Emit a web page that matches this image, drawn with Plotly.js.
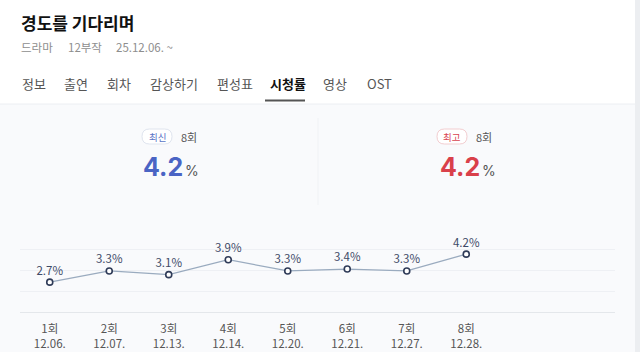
<!DOCTYPE html>
<html>
<head>
<meta charset="utf-8">
<script src="https://cdn.plot.ly/plotly-3.0.1.min.js"></script>
<style>
html,body{margin:0;padding:0;background:#fff;}
#chart{width:640px;height:352px;}
</style>
</head>
<body>
<div id="chart"></div>
<script>
// ---- data ----
const episodes = ["1회","2회","3회","4회","5회","6회","7회","8회"];
const airDates = ["12.06.","12.07.","12.13.","12.14.","12.20.","12.21.","12.27.","12.28."];
const ratings = [2.7, 3.3, 3.1, 3.9, 3.3, 3.4, 3.3, 4.2];
const gridVals = [1.1, 2.225, 3.35, 4.475, 5.6];
const tabs = ["정보","출연","회차","감상하기","편성표","시청률","영상","OST"];
const tabX = [20, 62, 105, 148, 215, 268, 321, 365];
const activeTab = "시청률";

const FONT = '"Noto Sans CJK KR", "Noto Sans", sans-serif';
const NUMFONT = 'Inter, "Noto Sans", sans-serif';

// plot area geometry (pixels)
const L = 20, R = 615, T = 228, B = 312;
const px = x => (x - L) / (R - L);
const py = y => (B - y) / (B - T);

const xIdx = episodes.map((_, i) => i);
const tickText = episodes.map((e, i) => e + '<br>' + airDates[i]);

const trace = {
  x: xIdx,
  y: ratings,
  mode: 'lines+markers+text',
  text: ratings.map(v => v.toFixed(1) + '%'),
  textposition: 'top center',
  textfont: {family: FONT, size: 11.5, color: '#3f4b68'},
  line: {color: '#9aabbf', width: 1.3},
  marker: {size: 6, color: '#ffffff', line: {color: '#2f3b58', width: 1.6}},
  cliponaxis: false,
  hoverinfo: 'skip'
};

const ann = [];
const shapes = [];
function txt(x, y, s, size, color, opts, family) {
  ann.push(Object.assign({
    xref: 'paper', yref: 'paper', x: px(x), y: py(y), text: s,
    showarrow: false, xanchor: 'left', yanchor: 'middle',
    font: {family: family || FONT, size: size, color: color}
  }, opts || {}));
}
function pill(x0, x1, y0, y1, fill, stroke) {
  const r = (y1 - y0) / 2;
  const P = (x, y) => px(x) + ',' + py(y);
  const path = 'M' + P(x0 + r, y0) + ' L' + P(x1 - r, y0) +
    ' Q' + P(x1, y0) + ' ' + P(x1, y0 + r) + ' Q' + P(x1, y1) + ' ' + P(x1 - r, y1) +
    ' L' + P(x0 + r, y1) + ' Q' + P(x0, y1) + ' ' + P(x0, y0 + r) +
    ' Q' + P(x0, y0) + ' ' + P(x0 + r, y0) + ' Z';
  shapes.push({type: 'path', xref: 'paper', yref: 'paper', path: path,
    fillcolor: fill, line: {color: stroke, width: 1}});
}

// white header background
shapes.push({type: 'rect', xref: 'paper', yref: 'paper', x0: px(0), x1: px(640), y0: py(104), y1: py(0),
  fillcolor: '#ffffff', line: {width: 0}, layer: 'below'});
// separator under tabs
shapes.push({type: 'line', xref: 'paper', yref: 'paper', x0: px(0), x1: px(636), y0: py(104), y1: py(104),
  line: {color: '#eceef2', width: 1}, layer: 'below'});
// right edge
shapes.push({type: 'rect', xref: 'paper', yref: 'paper', x0: px(635), x1: px(640), y0: py(352), y1: py(0),
  fillcolor: '#eceef1', line: {width: 0}, layer: 'below'});
// divider between stat cards
shapes.push({type: 'line', xref: 'paper', yref: 'paper', x0: px(318), x1: px(318), y0: py(118), y1: py(205),
  line: {color: '#f0f2f5', width: 1}, layer: 'below'});

// title + meta
txt(19, 22, '<b>경도를 기다리며</b>', 17, '#111111');
txt(19, 47, '드라마', 11.5, '#8e8e8e');
txt(66, 47, '12부작', 11.5, '#8e8e8e');
txt(114, 47, '25.12.06. ~', 11.5, '#8e8e8e');

// tabs
tabs.forEach((t, i) => {
  const active = t === activeTab;
  txt(tabX[i], 83, active ? '<b>' + t + '</b>' : t, 13, active ? '#111111' : '#555555');
});
shapes.push({type: 'line', xref: 'paper', yref: 'paper', x0: px(265), x1: px(305), y0: py(100.5), y1: py(100.5),
  line: {color: '#555555', width: 2}});

// stat badges
pill(142, 172, 129, 144, '#ffffff', '#dfe4ee');
txt(157, 136.5, '최신', 9.5, '#5a74c6', {xanchor: 'center'});
txt(179, 136.5, '8회', 11, '#555555');
txt(141, 167, '<b>4.2</b>', 25, '#4a64c4', null, NUMFONT);
txt(183, 170, '%', 14, '#555555', null, NUMFONT);

pill(437, 467, 129, 144, '#ffffff', '#f2cdd0');
txt(452, 136.5, '최고', 9.5, '#d94450', {xanchor: 'center'});
txt(474, 136.5, '8회', 11, '#555555');
txt(438, 167, '<b>4.2</b>', 25, '#d9404a', null, NUMFONT);
txt(480, 170, '%', 14, '#555555', null, NUMFONT);

const layout = {
  width: 640, height: 352,
  margin: {l: L, r: 640 - R, t: T, b: 352 - B, pad: 0},
  paper_bgcolor: '#f9fafc',
  plot_bgcolor: 'rgba(0,0,0,0)',
  showlegend: false,
  font: {family: FONT},
  xaxis: {
    range: [-0.5, 9.5],
    tickmode: 'array', tickvals: xIdx, ticktext: tickText,
    tickfont: {family: FONT, size: 11.5, color: '#555555'},
    ticks: 'outside', ticklen: 6, tickcolor: 'rgba(0,0,0,0)',
    showgrid: false, zeroline: false,
    showline: true, linecolor: '#e4e7eb', linewidth: 1,
    fixedrange: true
  },
  yaxis: {
    range: [1.1, 5.6],
    tickmode: 'array', tickvals: gridVals,
    showticklabels: false,
    showgrid: true, gridcolor: '#eef0f4', gridwidth: 1,
    zeroline: false, showline: false, fixedrange: true
  },
  shapes: shapes,
  annotations: ann
};

Plotly.newPlot('chart', [trace], layout, {staticPlot: true, displayModeBar: false});
</script>
</body>
</html>
